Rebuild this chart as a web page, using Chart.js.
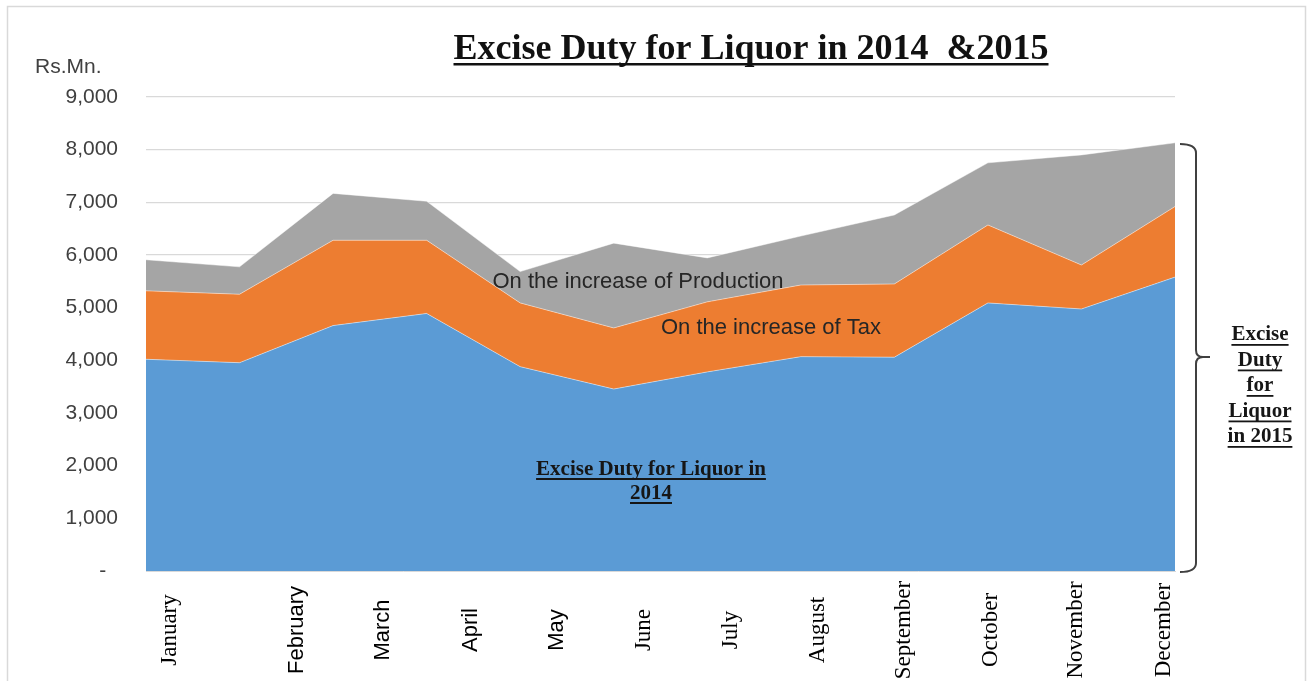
<!DOCTYPE html>
<html><head><meta charset="utf-8">
<script src="https://cdn.jsdelivr.net/npm/chart.js@4.4.1/dist/chart.umd.min.js"></script>
<style>html,body{margin:0;padding:0;background:#fff;overflow:hidden}</style>
</head><body>
<canvas id="c" width="1311" height="681"></canvas>
<script>
// ---- data ----
const months = ['January','February','March','April','May','June','July','August','September','October','November','December'];
const duty2014 = [4020, 3955, 4660, 4890, 3880, 3455, 3780, 4070, 4060, 5090, 4975, 5580];
const taxIncrease = [1300, 1300, 1620, 1390, 1210, 1160, 1330, 1360, 1390, 1480, 835, 1340];
const productionIncrease = [590, 520, 890, 740, 595, 1610, 835, 930, 1310, 1180, 2090, 1210];
const yMin = 0, yMax = 9000, yStep = 1000;
const seriesNames = ['Excise Duty for Liquor in 2014', 'On the increase of Tax', 'On the increase of Production'];

// label placement along the category axis (fractional category index)
const monthLabelAt = [0.26, 1.61, 2.53, 3.47, 4.39, 5.32, 6.25, 7.18, 8.10, 9.03, 9.94, 10.88];
const sansMonths = ['February','March','April','May'];

function underlineText(ctx, text, x, y, lineY, thick) {
  ctx.fillText(text, x, y);
  const w = ctx.measureText(text).width;
  let x0 = x;
  if (ctx.textAlign === 'center') x0 = x - w / 2;
  else if (ctx.textAlign === 'right') x0 = x - w;
  ctx.fillRect(x0, lineY, w, thick);
}

const decor = {
  id: 'decor',
  afterDraw(chart) {
    const ctx = chart.ctx;
    const xs = chart.scales.x;
    ctx.save();
    // outer border
    ctx.strokeStyle = '#d9d9d9';
    ctx.lineWidth = 1.5;
    ctx.strokeRect(7.5, 6.5, 1298, 720);

    // title
    ctx.fillStyle = '#111';
    ctx.font = 'bold 36px "Liberation Serif", "Times New Roman", serif';
    ctx.textAlign = 'center';
    ctx.textBaseline = 'alphabetic';
    underlineText(ctx, 'Excise Duty for Liquor in 2014  &2015', 751, 59, 63, 2.5);

    // unit label
    ctx.fillStyle = '#404040';
    ctx.font = '21px "Liberation Sans", Arial, sans-serif';
    ctx.textAlign = 'left';
    ctx.textBaseline = 'middle';
    ctx.fillText('Rs.Mn.', 35, 67);

    // month labels (rotated, centered)
    ctx.fillStyle = '#000';
    months.forEach((m, i) => {
      const x = xs.getPixelForValue(monthLabelAt[i]);
      ctx.save();
      ctx.translate(x, 630);
      ctx.rotate(-Math.PI / 2);
      ctx.textAlign = 'center';
      ctx.textBaseline = 'middle';
      ctx.font = sansMonths.includes(m) ? '22px "Liberation Sans", Arial, sans-serif' : '23px "Liberation Serif", "Times New Roman", serif';
      ctx.fillText(m, 0, 0);
      ctx.restore();
    });

    // in-area labels
    ctx.fillStyle = '#262626';
    ctx.font = '22px "Liberation Sans", Arial, sans-serif';
    ctx.textAlign = 'center';
    ctx.textBaseline = 'middle';
    ctx.fillText(seriesNames[2], 638, 282);
    ctx.fillText(seriesNames[1], 771, 328);

    ctx.fillStyle = '#161616';
    ctx.font = 'bold 21px "Liberation Serif", "Times New Roman", serif';
    ctx.textBaseline = 'alphabetic';
    underlineText(ctx, 'Excise Duty for Liquor in', 651, 475, 478, 2);
    underlineText(ctx, '2014', 651, 499, 502, 2);

    // brace
    ctx.strokeStyle = '#404040';
    ctx.lineWidth = 2;
    ctx.beginPath();
    ctx.moveTo(1180, 144);
    ctx.quadraticCurveTo(1196, 144, 1196, 153);
    ctx.lineTo(1196, 350);
    ctx.quadraticCurveTo(1196, 357, 1203, 357);
    ctx.lineTo(1210, 357);
    ctx.moveTo(1203, 357);
    ctx.quadraticCurveTo(1196, 357, 1196, 364);
    ctx.lineTo(1196, 563);
    ctx.quadraticCurveTo(1196, 572, 1180, 572);
    ctx.stroke();

    // right annotation
    ctx.fillStyle = '#161616';
    ctx.font = 'bold 21px "Liberation Serif", "Times New Roman", serif';
    ctx.textAlign = 'center';
    const lines = ['Excise', 'Duty', 'for', 'Liquor', 'in 2015'];
    lines.forEach((t, i) => {
      const yb = 340 + i * 25.5;
      underlineText(ctx, t, 1260, yb, yb + 4, 1.8);
    });
    ctx.restore();
  }
};

const ds = (label, data, color, fill) => ({
  label, data, backgroundColor: color, borderColor: 'rgba(255,255,255,0.45)', borderWidth: 1,
  fill, pointRadius: 0, pointHoverRadius: 0, tension: 0
});

new Chart(document.getElementById('c'), {
  type: 'line',
  data: {
    labels: months,
    datasets: [
      ds(seriesNames[0], duty2014, '#5B9BD5', 'origin'),
      ds(seriesNames[1], taxIncrease, '#ED7D31', '-1'),
      ds(seriesNames[2], productionIncrease, '#A5A5A5', '-1')
    ]
  },
  options: {
    responsive: false,
    devicePixelRatio: 1,
    animation: false,
    layout: { padding: { top: 97, right: 136, bottom: 110, left: 0 } },
    plugins: { legend: { display: false }, tooltip: { enabled: false }, title: { display: false } },
    scales: {
      x: {
        type: 'category',
        offset: false,
        grid: { display: false },
        border: { display: true, color: '#d9d9d9' },
        ticks: { display: false },
        afterFit: s => { s.height = 0; }
      },
      y: {
        stacked: true,
        min: yMin, max: yMax,
        ticks: {
          stepSize: yStep,
          padding: 28,
          color: '#404040',
          font: { family: '"Liberation Sans", Arial, sans-serif', size: 21 },
          callback: v => v === 0 ? '-  ' : v.toLocaleString('en-US')
        },
        grid: { color: '#d9d9d9', lineWidth: 1.2, drawTicks: false },
        border: { display: false },
        afterFit: s => { s.width = 146; }
      }
    }
  },
  plugins: [decor]
});
</script>
</body></html>
